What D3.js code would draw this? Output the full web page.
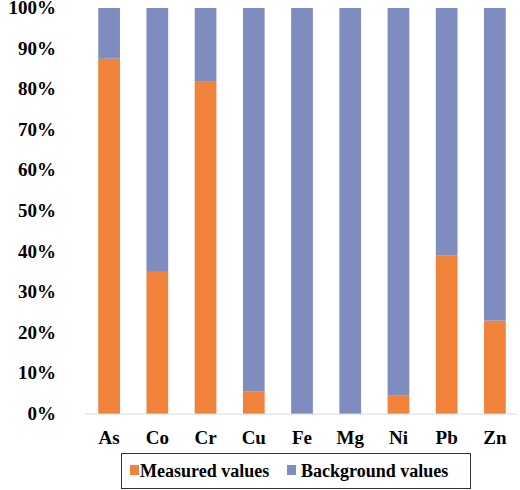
<!DOCTYPE html>
<html><head><meta charset="utf-8">
<script src="https://cdn.jsdelivr.net/npm/d3@7"></script>
<style>body{margin:0;background:#fff}</style>
</head><body>
<script>
// data
var elements = ["As","Co","Cr","Cu","Fe","Mg","Ni","Pb","Zn"];
var measured = [87.5,35,82,5.5,0,0,4.5,39,23];
var background = measured.map(function(v){ return 100 - v; });
var yTicks = [0,10,20,30,40,50,60,70,80,90,100];

var svg = d3.select("body").append("svg").attr("width",520).attr("height",490)
  .attr("font-family","'Liberation Serif','Times New Roman',serif").attr("font-weight","bold");

var xScale = d3.scaleBand().domain(elements).range([85,519]).paddingInner(0.55).paddingOuter(0.275);
var yScale = d3.scaleLinear().domain([0,100]).range([414,8]);

// stacked bars
svg.append("g").selectAll("rect.m").data(elements).enter().append("rect")
  .attr("x",function(d){return xScale(d);}).attr("width",xScale.bandwidth())
  .attr("y",function(d,i){return yScale(measured[i]);})
  .attr("height",function(d,i){return yScale(0)-yScale(measured[i]);})
  .style("fill","#F0823A");
svg.append("g").selectAll("rect.b").data(elements).enter().append("rect")
  .attr("x",function(d){return xScale(d);}).attr("width",xScale.bandwidth())
  .attr("y",yScale(100))
  .attr("height",function(d,i){return yScale(measured[i])-yScale(100);})
  .style("fill","#7F8CBF");

// baseline
svg.append("line").attr("x1",85).attr("x2",517).attr("y1",yScale(0)).attr("y2",yScale(0))
  .style("stroke","#d9d9d9").style("stroke-width",1);

// y axis labels
svg.append("g").selectAll("text").data(yTicks).enter().append("text")
  .attr("x",56).attr("y",function(d){return yScale(d)+6;})
  .attr("text-anchor","end").style("font-size","19px").text(function(d){return d+"%";});

// x axis labels
svg.append("g").selectAll("text").data(elements).enter().append("text")
  .attr("x",function(d){return xScale(d)+xScale.bandwidth()/2;}).attr("y",444)
  .attr("text-anchor","middle").style("font-size","19px").text(function(d){return d;});

// legend
var leg = svg.append("g");
leg.append("rect").attr("x",121.5).attr("y",453.5).attr("width",349).attr("height",35)
  .style("fill","none").style("stroke","#333");
leg.append("rect").attr("x",130).attr("y",465).attr("width",9).attr("height",10).style("fill","#F0823A");
leg.append("text").attr("x",140).attr("y",477).style("font-size","18px").text("Measured values");
leg.append("rect").attr("x",287).attr("y",465).attr("width",9).attr("height",10).style("fill","#7F8CBF");
leg.append("text").attr("x",301).attr("y",477).style("font-size","18px").text("Background values");
</script>
</body></html>
